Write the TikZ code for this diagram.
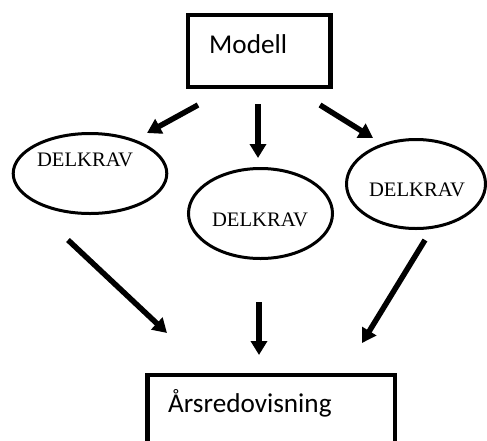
\documentclass[tikz,border=0pt]{standalone}
\usepackage{fontspec}
\setmainfont{Liberation Serif}
\newfontfamily\calib{Carlito}
\usetikzlibrary{arrows.meta}
\tikzset{
  boxstyle/.style={draw, line width=4.2pt, inner sep=0pt},
  ellstyle/.style={line width=3pt},
  bigarrow/.style={line width=5.5pt, -{Triangle[length=14pt,width=16pt]}},
  calitext/.style={font=\calib\fontsize{27.2}{31}\selectfont, inner sep=0pt, anchor=base west},
  delk/.style={font=\fontsize{20.6}{24}\selectfont, inner sep=0pt},
}
\begin{document}
\begin{tikzpicture}[x=1pt,y=-1pt]
\useasboundingbox (0,0) rectangle (487,440);
\clip (0,0) rectangle (487,440);
% boxes
\node[boxstyle, minimum width=142.5pt, minimum height=72.3pt] (modell) at (259.25,50.85) {};
\node[calitext] (modelltext) at (209,53.3) {Modell};
\node[boxstyle, minimum width=247.2pt, minimum height=100pt] (ars) at (271.1,424.7) {};
\node[calitext] (arstext) at (168,412) {Årsredovisning};
% ellipses
\draw[ellstyle] (90,173.5) ellipse [x radius=76.8, y radius=40];
\node[delk] (d1) at (85,160) {DELKRAV};
\draw[ellstyle] (260.5,213.5) ellipse [x radius=72, y radius=45];
\node[delk] (d2) at (260,220) {DELKRAV};
\draw[ellstyle] (416,184) ellipse [x radius=69.5, y radius=44.5];
\node[delk] (d3) at (417,190) {DELKRAV};
% arrow coordinates
\coordinate (a1s) at (198,105); \coordinate (a1e) at (147,133);
\coordinate (a2s) at (258,104); \coordinate (a2e) at (258,158);
\coordinate (a3s) at (320,105); \coordinate (a3e) at (373,138);
\coordinate (b1s) at (68,240);  \coordinate (b1e) at (167,333);
\coordinate (b2s) at (259,302); \coordinate (b2e) at (259,355);
\coordinate (b3s) at (425,240); \coordinate (b3e) at (362,343);
\draw[bigarrow] (a1s) -- (a1e);
\draw[bigarrow] (a2s) -- (a2e);
\draw[bigarrow] (a3s) -- (a3e);
\draw[bigarrow] (b1s) -- (b1e);
\draw[bigarrow] (b2s) -- (b2e);
\draw[bigarrow] (b3s) -- (b3e);
\end{tikzpicture}
\end{document}
